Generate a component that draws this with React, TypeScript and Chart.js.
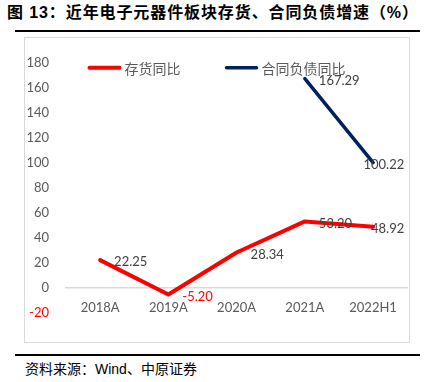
import React, { useEffect, useRef } from "react";
import { Chart, registerables } from "chart.js";

Chart.register(...registerables);

const title = "图 13：近年电子元器件板块存货、合同负债增速（%）";
const source = "资料来源：Wind、中原证券";
const categories = ["2018A", "2019A", "2020A", "2021A", "2022H1"];
const inventoryYoY = [22.25, -5.2, 28.34, 53.2, 48.92];
const contractLiabYoY = [null, null, null, 167.29, 100.22];
const seriesNames = ["存货同比", "合同负债同比"];
const seriesColors = ["#FF0000", "#002060"];
const yMin = -20;
const yMax = 180;
const yStep = 20;

const valueLabelPlugin = {
  id: "valueLabels",
  afterDatasetsDraw(chart: any) {
    const ctx = chart.ctx;
    const area = chart.chartArea;
    ctx.save();
    ctx.font = "13px Lato";
    ctx.textBaseline = "middle";
    ctx.textAlign = "left";
    chart.data.datasets.forEach((ds: any, di: number) => {
      const meta = chart.getDatasetMeta(di);
      meta.data.forEach((pt: any, i: number) => {
        const v = ds.data[i];
        if (v == null) return;
        const text = v.toFixed(2);
        const w = ctx.measureText(text).width;
        let x = pt.x + 14;
        if (x + w > area.right - 3) x = area.right - 3 - w;
        ctx.fillStyle = v < 0 ? "#FF0000" : "#404040";
        ctx.fillText(text, x, pt.y + 2);
      });
    });
    ctx.restore();
  },
};

const legendPlugin = {
  id: "customLegend",
  afterDraw(chart: any) {
    const ctx = chart.ctx;
    ctx.save();
    ctx.font = "14px 'Noto Sans CJK SC'";
    ctx.textBaseline = "middle";
    ctx.textAlign = "left";
    const lineW = 32;
    const gapText = 4;
    const gapItem = 45;
    const items = chart.data.datasets.map((ds: any) => ({
      label: ds.label,
      color: ds.borderColor,
      width: ds.borderWidth,
      tw: ctx.measureText(ds.label).width,
    }));
    const total =
      items.reduce((s: number, it: any) => s + lineW + gapText + it.tw, 0) +
      gapItem * (items.length - 1);
    let x = chart.width / 2 - total / 2;
    const y = chart.chartArea.top + 5;
    items.forEach((it: any) => {
      ctx.strokeStyle = it.color;
      ctx.lineWidth = it.width;
      ctx.lineCap = "round";
      ctx.beginPath();
      ctx.moveTo(x + 1, y);
      ctx.lineTo(x + lineW - 1, y);
      ctx.stroke();
      ctx.fillStyle = "#595959";
      ctx.fillText(it.label, x + lineW + gapText, y + 1);
      x += lineW + gapText + it.tw + gapItem;
    });
    ctx.restore();
  },
};

export default function App() {
  const canvasRef = useRef<HTMLCanvasElement | null>(null);

  useEffect(() => {
    if (!canvasRef.current) return;
    const chart = new Chart(canvasRef.current, {
      type: "line",
      data: {
        labels: categories,
        datasets: [
          {
            label: seriesNames[0],
            data: inventoryYoY,
            borderColor: seriesColors[0],
            backgroundColor: seriesColors[0],
            borderWidth: 4,
            pointRadius: 0,
            tension: 0,
            borderCapStyle: "round",
            borderJoinStyle: "round",
          },
          {
            label: seriesNames[1],
            data: contractLiabYoY,
            borderColor: seriesColors[1],
            backgroundColor: seriesColors[1],
            borderWidth: 3.5,
            pointRadius: 0,
            tension: 0,
            borderCapStyle: "round",
            borderJoinStyle: "round",
          },
        ],
      },
      options: {
        animation: false,
        responsive: false,
        maintainAspectRatio: false,
        layout: { padding: { top: 15, bottom: 29, left: 0, right: 1 } },
        plugins: {
          legend: { display: false },
          tooltip: { enabled: false },
        },
        scales: {
          x: {
            position: { y: 0 } as any,
            offset: true,
            grid: { display: false, drawTicks: false, offset: true },
            border: { display: true, color: "#d9d9d9", width: 1.5 },
            ticks: {
              color: "#595959",
              font: { family: "Lato", size: 13 },
              padding: 12,
              maxRotation: 0,
              autoSkip: false,
            },
          },
          y: {
            min: yMin,
            max: yMax,
            afterFit: (s: any) => {
              s.width = 41;
            },
            grid: { display: false, drawTicks: false },
            border: { display: false },
            ticks: {
              stepSize: yStep,
              padding: 17,
              color: (c: any) => (c.tick && c.tick.value < 0 ? "#FF0000" : "#595959"),
              font: { family: "Lato", size: 13 },
            },
          },
        },
      },
      plugins: [valueLabelPlugin, legendPlugin],
    });
    return () => chart.destroy();
  }, []);

  return (
    <div
      style={{
        position: "fixed",
        left: 0,
        top: 0,
        width: 431,
        height: 382,
        background: "#fff",
        overflow: "hidden",
      }}
    >
      <div
        style={{
          position: "absolute",
          left: 7,
          top: 3,
          width: 420,
          fontFamily: "'Liberation Sans', 'Noto Sans CJK SC', sans-serif",
          fontWeight: 700,
          fontSize: 16,
          lineHeight: "20px",
          letterSpacing: 0.9,
          color: "#000",
          whiteSpace: "nowrap",
        }}
      >
        {title}
      </div>
      <div
        style={{
          position: "absolute",
          left: 15,
          top: 30,
          width: 405,
          height: 2,
          background: "#000",
        }}
      />
      <div
        style={{
          position: "absolute",
          left: 24,
          top: 37,
          width: 386,
          height: 306,
          boxSizing: "border-box",
          border: "1px solid #d9d9d9",
        }}
      >
        <canvas ref={canvasRef} width={384} height={304} style={{ display: "block" }} />
      </div>
      <div
        style={{
          position: "absolute",
          left: 15,
          top: 354,
          width: 405,
          height: 2,
          background: "#000",
        }}
      />
      <div
        style={{
          position: "absolute",
          left: 25,
          top: 360,
          fontFamily: "'Liberation Sans', 'Noto Sans CJK SC', sans-serif",
          fontSize: 14,
          lineHeight: "18px",
          color: "#000",
          whiteSpace: "nowrap",
        }}
      >
        {source}
      </div>
    </div>
  );
}
